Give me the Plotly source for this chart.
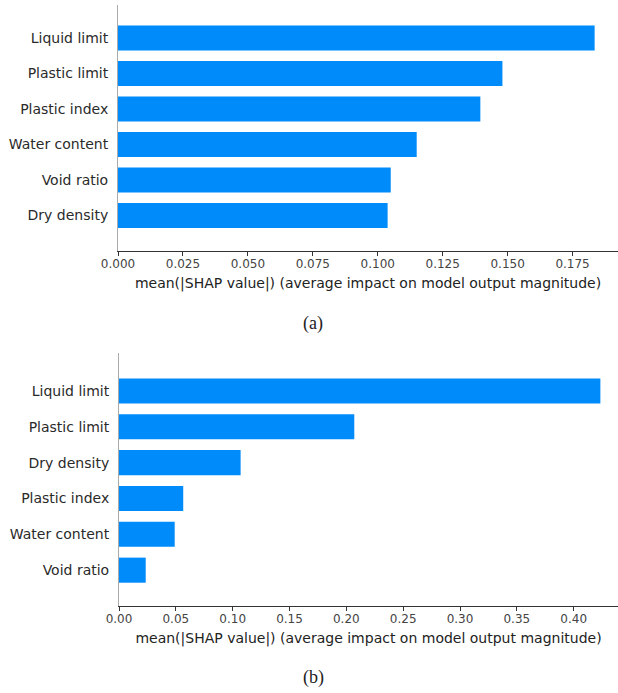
import plotly.graph_objects as go

# Panel (a) — listed top to bottom
features_a = ["Liquid limit", "Plastic limit", "Plastic index", "Water content", "Void ratio", "Dry density"]
values_a = [0.1835, 0.148, 0.1395, 0.115, 0.105, 0.1038]

# Panel (b) — listed top to bottom
features_b = ["Liquid limit", "Plastic limit", "Dry density", "Plastic index", "Water content", "Void ratio"]
values_b = [0.4235, 0.207, 0.107, 0.0565, 0.049, 0.0235]

ticks_a = [0, 0.025, 0.05, 0.075, 0.1, 0.125, 0.15, 0.175]
ticks_b = [0, 0.05, 0.1, 0.15, 0.2, 0.25, 0.3, 0.35, 0.4]

BLUE = "#008bfb"
W, H = 618, 693
xtitle = "mean(|SHAP value|) (average impact on model output magnitude)"

fig = go.Figure()
fig.add_trace(go.Bar(x=values_a[::-1], y=features_a[::-1], orientation="h",
                     marker=dict(color=BLUE, line=dict(width=0)), width=0.7,
                     xaxis="x", yaxis="y", hoverinfo="x+y"))
fig.add_trace(go.Bar(x=values_b[::-1], y=features_b[::-1], orientation="h",
                     marker=dict(color=BLUE, line=dict(width=0)), width=0.7,
                     xaxis="x2", yaxis="y2", hoverinfo="x+y"))

def px_y(p):
    return 1 - p / H

xcommon = dict(showline=True, linecolor="#333333", linewidth=1.3, ticks="outside",
               ticklen=4, tickwidth=1, tickcolor="#333333", showgrid=False, zeroline=False,
               automargin=False, ticklabelstandoff=-3,
               tickfont=dict(family="DejaVu Sans", size=12, color="#444444"),
               title=dict(text=xtitle, font=dict(family="DejaVu Sans", size=14, color="#222222"), standoff=8))
ycommon = dict(type="category", showline=True, linecolor="#aaaaaa", linewidth=1, ticks="",
               showgrid=False, zeroline=False, ticklabelstandoff=6, automargin=False,
               tickfont=dict(family="DejaVu Sans", size=14, color="#2a2a2a"))

fig.update_layout(
    width=W, height=H, margin=dict(l=0, r=0, t=0, b=0),
    paper_bgcolor="white", plot_bgcolor="white", showlegend=False,
    xaxis=dict(xcommon, domain=[118 / W, 1], range=[0, 0.1925], tickvals=ticks_a,
               tickformat=".3f", anchor="y"),
    yaxis=dict(ycommon, domain=[px_y(251), px_y(5)], range=[-1, 5.93], anchor="x"),
    xaxis2=dict(xcommon, domain=[119 / W, 1], range=[0, 0.439], tickvals=ticks_b,
                tickformat=".2f", anchor="y2"),
    yaxis2=dict(ycommon, domain=[px_y(606), px_y(353)], range=[-1, 6.06], anchor="x2"),
    annotations=[
        dict(text="(a)", x=313 / W, y=px_y(323), xref="paper", yref="paper", showarrow=False,
             xanchor="center", yanchor="middle",
             font=dict(family="Liberation Serif", size=18, color="#222222")),
        dict(text="(b)", x=313 / W, y=px_y(677), xref="paper", yref="paper", showarrow=False,
             xanchor="center", yanchor="middle",
             font=dict(family="Liberation Serif", size=18, color="#222222")),
    ],
)

fig.write_html("out.html")
